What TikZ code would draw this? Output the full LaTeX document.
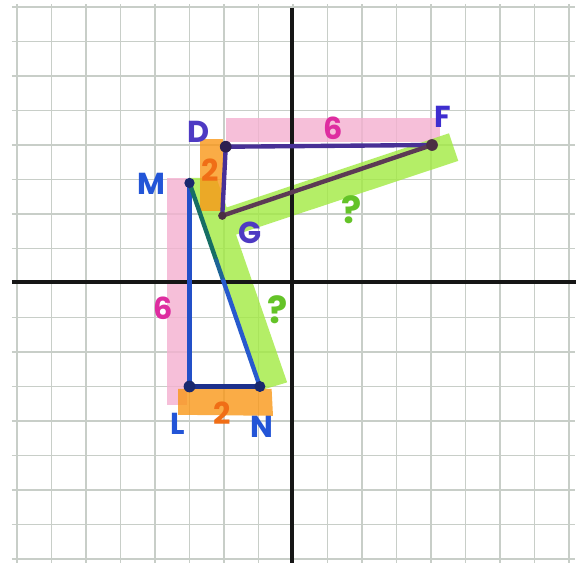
\documentclass[tikz,border=0pt]{standalone}
\usepackage{fontspec}
\newfontfamily\hand{Poppins}
\usetikzlibrary{calc}
\definecolor{gridgray}{RGB}{200,206,200}
\definecolor{axisblack}{RGB}{22,22,22}
\definecolor{hlpink}{RGB}{244,176,208}
\definecolor{hlorange}{RGB}{249,152,24}
\definecolor{hlgreen}{RGB}{162,234,66}
\definecolor{dfpurple}{RGB}{72,48,150}
\definecolor{gfbrown}{RGB}{92,58,84}
\definecolor{mlblue}{RGB}{35,80,200}
\definecolor{lnnavy}{RGB}{28,48,140}
\definecolor{mnteal}{RGB}{22,110,100}
\definecolor{mnmid}{RGB}{30,100,150}
\definecolor{mnblue}{RGB}{40,90,205}
\definecolor{dotdark}{RGB}{45,30,80}
\definecolor{dotnavy}{RGB}{25,40,110}
\definecolor{labpurple}{RGB}{78,58,195}
\definecolor{labblue}{RGB}{35,85,215}
\definecolor{labmagenta}{RGB}{222,45,160}
\definecolor{laborange}{RGB}{240,110,22}
\definecolor{labgreen}{RGB}{100,195,40}
\begin{document}
\begin{tikzpicture}[x=1cm,y=1cm,
  gridline/.style={draw=gridgray, line width=1.6pt},
  axisline/.style={draw=axisblack, line width=3.8pt},
  hl/.style={opacity=0.8},
  seg/.style={line width=3.6pt, line cap=round},
  lab/.style={font=\hand\bfseries\fontsize{25}{25}\selectfont, inner sep=0pt},
  qlab/.style={font=\hand\bfseries\fontsize{31}{31}\selectfont, inner sep=0pt},
]
\useasboundingbox (-8.493,-8.116) rectangle (8.290,8.203);
\fill[white] (-8.493,-8.116) rectangle (8.290,8.203);
% grid
\foreach \i in {-8,...,8} {
  \draw[gridline] (\i,8.08) -- (\i,-8.2);
  \draw[gridline] (-8.15,\i) -- (8.18,\i);
}
% highlighter strips
\fill[hlpink, hl] (-1.95,4.1) rectangle (4.26,4.78);
\fill[hlpink, hl] (-3.65,3.04) rectangle (-3.08,-3.54);
\fill[hlgreen, hl]
  (-2.52,1.99) -- (4.52,4.34) -- (4.79,3.54) -- (-2.26,1.20) -- cycle
  (-3.02,3.05) -- (-2.22,3.05) -- (-0.17,-2.88) -- (-0.97,-3.12) -- cycle;
\fill[hlorange, hl] (-2.70,4.17) rectangle (-2.03,2.08);
\fill[hlorange, hl] (-3.33,-3.07) -- (-0.62,-3.07) -- (-0.58,-3.85) -- (-3.33,-3.82) -- cycle;
% axes
\coordinate (xl) at (-8.15,0.03);
\coordinate (xr) at (8.2,0.03);
\coordinate (yt) at (-0.03,7.98);
\coordinate (yb) at (-0.03,-8.2);
\draw[axisline] (xl) -- (xr);
\draw[axisline] (yt) -- (yb);
% points
\coordinate (D) at (-1.95,3.95);
\coordinate (F) at (4.03,4.0);
\coordinate (G) at (-2.05,1.95);
\coordinate (M) at (-3.0,2.9);
\coordinate (L) at (-3.0,-3.0);
\coordinate (N) at (-0.96,-3.0);
\coordinate (MNa) at ($(M)!0.38!(N)$);
\coordinate (MNb) at ($(M)!0.48!(N)$);
% segments
\draw[seg, dfpurple] (D) -- (F);
\draw[seg, dfpurple] (D) -- (G);
\draw[seg, gfbrown] (G) -- (F);
\draw[seg, mlblue] (M) -- (L);
\draw[seg, lnnavy, line width=4pt] (L) -- (N);
\draw[seg, mnteal] (M) -- (MNa);
\draw[seg, mnmid] (MNa) -- (MNb);
\draw[seg, mnblue] (MNb) -- (N);
% dots
\fill[dotdark] (D) circle (0.17);
\fill[gfbrown!80!black] (F) circle (0.17);
\fill[gfbrown!80!black] (G) circle (0.12);
\fill[dotnavy] (M) circle (0.15);
\fill[dotnavy] (L) circle (0.17);
\fill[dotnavy] (N) circle (0.16);
% labels
\node[lab, text=labpurple] (labD) at (-2.75,4.38) {D};
\node[lab, text=labpurple!80!blue] (labF) at (4.35,4.81) {F};
\node[lab, text=labpurple] (labG) at (-1.25,1.45) {G};
\node[lab, text=labblue] (labM) at (-4.09,2.87) {M};
\node[lab, text=labblue] (labL) at (-3.33,-4.09) {L};
\node[lab, text=labblue] (labN) at (-0.90,-4.17) {N};
\node[lab, text=labmagenta] (sixT) at (1.16,4.49) {6};
\node[lab, text=labmagenta] (sixL) at (-3.77,-0.72) {6};
\node[lab, text=laborange] (twoT) at (-2.41,3.28) {2};
\node[lab, text=laborange] (twoB) at (-2.06,-3.77) {2};
\node[qlab, text=labgreen] (qR) at (1.71,2.12) {?};
\node[qlab, text=labgreen] (qL) at (-0.46,-0.78) {?};
\end{tikzpicture}
\end{document}
